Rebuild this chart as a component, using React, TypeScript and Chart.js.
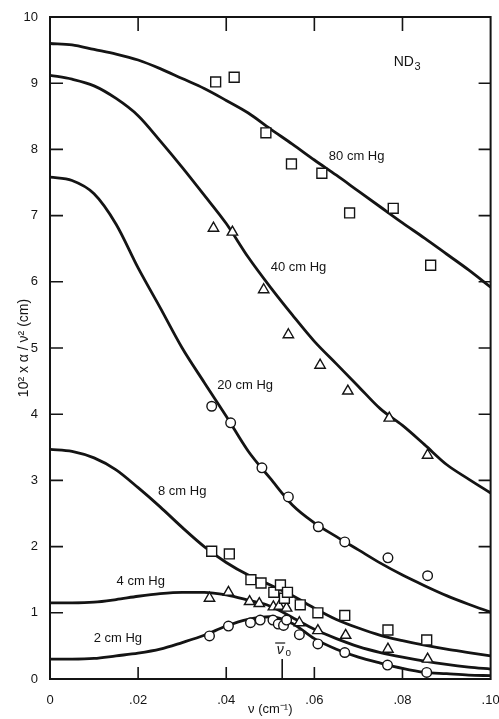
import React, { useEffect, useRef } from "react";
import { Chart, registerables } from "chart.js";

Chart.register(...registerables);

// ---- sampled theory curves (x in cm^-1) ----
const curveX = [0, 0.005, 0.01, 0.015, 0.02, 0.025, 0.03, 0.035, 0.04, 0.045, 0.05, 0.055, 0.06, 0.065, 0.07, 0.075, 0.08, 0.085, 0.09, 0.095, 0.1];
const curve80 = [9.6, 9.58, 9.51, 9.44, 9.35, 9.22, 9.07, 8.92, 8.74, 8.55, 8.31, 8.08, 7.84, 7.61, 7.37, 7.13, 6.89, 6.66, 6.42, 6.18, 5.92];
const curve40 = [9.12, 9.06, 8.96, 8.77, 8.51, 8.13, 7.73, 7.31, 6.88, 6.37, 5.92, 5.5, 5.1, 4.76, 4.42, 4.08, 3.83, 3.54, 3.24, 3.02, 2.81];
const curve20 = [7.58, 7.53, 7.33, 6.87, 6.21, 5.61, 5.0, 4.48, 3.97, 3.44, 3.03, 2.63, 2.36, 2.15, 1.95, 1.75, 1.57, 1.41, 1.26, 1.13, 1.01];
const curve8 = [3.47, 3.44, 3.34, 3.16, 2.89, 2.6, 2.29, 2.0, 1.76, 1.57, 1.42, 1.26, 1.07, 0.9, 0.77, 0.66, 0.58, 0.51, 0.45, 0.4, 0.35];
const curve4 = [1.15, 1.15, 1.16, 1.2, 1.25, 1.29, 1.31, 1.31, 1.27, 1.19, 1.1, 0.93, 0.75, 0.61, 0.49, 0.4, 0.33, 0.27, 0.22, 0.18, 0.15];
const curve2 = [0.3, 0.3, 0.31, 0.35, 0.39, 0.45, 0.55, 0.66, 0.8, 0.9, 0.94, 0.84, 0.61, 0.45, 0.33, 0.24, 0.16, 0.1, 0.08, 0.06, 0.05];

// ---- measured points ----
const p80X = [0.0376, 0.0418, 0.049, 0.0548, 0.0617, 0.068, 0.0779, 0.0864];
const p80Y = [9.02, 9.09, 8.25, 7.78, 7.64, 7.04, 7.11, 6.25];
const p40X = [0.0371, 0.0414, 0.0485, 0.0541, 0.0613, 0.0676, 0.077, 0.0857];
const p40Y = [6.81, 6.75, 5.88, 5.2, 4.74, 4.35, 3.94, 3.38];
const p20X = [0.0367, 0.041, 0.0481, 0.0541, 0.0609, 0.0669, 0.0767, 0.0857];
const p20Y = [4.12, 3.87, 3.19, 2.75, 2.3, 2.07, 1.83, 1.56];
const p8X = [0.0367, 0.0407, 0.0456, 0.0479, 0.0508, 0.0523, 0.0532, 0.0539, 0.0568, 0.0608, 0.0669, 0.0767, 0.0855];
const p8Y = [1.93, 1.89, 1.5, 1.45, 1.31, 1.42, 1.22, 1.31, 1.12, 1.0, 0.96, 0.74, 0.59];
const p4X = [0.0362, 0.0405, 0.0453, 0.0475, 0.0507, 0.052, 0.0537, 0.0566, 0.0608, 0.0671, 0.0767, 0.0857];
const p4Y = [1.22, 1.31, 1.17, 1.14, 1.09, 1.1, 1.07, 0.85, 0.73, 0.66, 0.45, 0.3];
const p2X = [0.0362, 0.0405, 0.0455, 0.0477, 0.0506, 0.0518, 0.053, 0.0537, 0.0566, 0.0608, 0.0669, 0.0766, 0.0855];
const p2Y = [0.65, 0.8, 0.85, 0.89, 0.89, 0.83, 0.81, 0.89, 0.67, 0.53, 0.4, 0.21, 0.1];

// ---- axes / labels ----
const xTickValues = [0, 0.02, 0.04, 0.06, 0.08, 0.1];
const xTickLabels = ["0", ".02", ".04", ".06", ".08", ".10"];
const xInnerTicks = [0.02, 0.04, 0.06, 0.08];
const yTickValues = [0, 1, 2, 3, 4, 5, 6, 7, 8, 9, 10];
const curveLabelText = ["80 cm Hg", "40 cm Hg", "20 cm Hg", "8 cm Hg", "4 cm Hg", "2 cm Hg"];
const curveLabelX = [0.0696, 0.0564, 0.0443, 0.03, 0.0206, 0.0154];
const curveLabelY = [7.89, 6.22, 4.44, 2.84, 1.47, 0.62];
const gasLabelX = 0.081;
const gasLabelY = 9.32;
const nu0X = 0.0527;

const INK = "#141414";
const FAMILY = '"Liberation Sans", Arial, Helvetica, sans-serif';

const pts = (xs: number[], ys: number[]) => xs.map((x, i) => ({ x, y: ys[i] }));

const decor = {
  id: "decor",
  afterDatasetsDraw(chart: any) {
    const { ctx, chartArea: a, scales } = chart;
    const xs = scales.x;
    const ys = scales.y;
    ctx.save();
    ctx.strokeStyle = INK;
    ctx.lineWidth = 2;
    ctx.strokeRect(a.left, a.top, a.right - a.left, a.bottom - a.top);
    ctx.lineWidth = 1.6;
    ctx.beginPath();
    for (const v of yTickValues) {
      if (v === 0 || v === 10) continue;
      const py = ys.getPixelForValue(v);
      ctx.moveTo(a.left, py);
      ctx.lineTo(a.left + 13, py);
      ctx.moveTo(a.right, py);
      ctx.lineTo(a.right - 12, py);
    }
    for (const v of xInnerTicks) {
      const px = xs.getPixelForValue(v);
      ctx.moveTo(px, a.top);
      ctx.lineTo(px, a.top + 14);
      ctx.moveTo(px, a.bottom);
      ctx.lineTo(px, a.bottom - 12);
    }
    const n0 = xs.getPixelForValue(nu0X);
    ctx.moveTo(n0, a.bottom);
    ctx.lineTo(n0, a.bottom - 20);
    ctx.stroke();

    ctx.fillStyle = INK;
    ctx.textAlign = "center";
    ctx.textBaseline = "middle";
    ctx.font = `13px ${FAMILY}`;
    curveLabelText.forEach((t, i) => {
      ctx.fillText(t, xs.getPixelForValue(curveLabelX[i]), ys.getPixelForValue(curveLabelY[i]));
    });

    // ND3
    const gx = xs.getPixelForValue(gasLabelX);
    const gy = ys.getPixelForValue(gasLabelY);
    ctx.font = `14px ${FAMILY}`;
    const wND = ctx.measureText("ND").width;
    ctx.font = `11px ${FAMILY}`;
    const w3 = ctx.measureText("3").width;
    const start = gx - (wND + w3) / 2;
    ctx.textAlign = "left";
    ctx.font = `14px ${FAMILY}`;
    ctx.fillText("ND", start, gy);
    ctx.font = `11px ${FAMILY}`;
    ctx.fillText("3", start + wND + 0.5, gy + 5);

    // nu-bar-zero label
    const ly = a.bottom - 29;
    ctx.textAlign = "center";
    ctx.font = `italic 14px ${FAMILY}`;
    ctx.fillText("ν", n0 - 2, ly);
    ctx.lineWidth = 1.2;
    ctx.beginPath();
    ctx.moveTo(n0 - 7, ly - 7);
    ctx.lineTo(n0 + 3, ly - 7);
    ctx.stroke();
    ctx.font = `10px ${FAMILY}`;
    ctx.fillText("o", n0 + 6, ly + 3);
    ctx.restore();
  },
};

const curveDs = (ys: number[]) => ({
  data: pts(curveX, ys),
  showLine: true,
  borderColor: INK,
  borderWidth: 2.8,
  pointRadius: 0,
  cubicInterpolationMode: "monotone" as const,
  fill: false,
  order: 2,
});

const markDs = (xs: number[], ys: number[], style: string, r: number) => ({
  data: pts(xs, ys),
  showLine: false,
  pointStyle: style,
  pointRadius: r,
  pointBorderWidth: 1.4,
  pointBorderColor: INK,
  pointBackgroundColor: "#ffffff",
  order: 1,
});

export default function App() {
  const ref = useRef<HTMLCanvasElement | null>(null);
  useEffect(() => {
    if (!ref.current) return;
    const chart = new Chart(ref.current, {
      type: "scatter",
      data: {
        datasets: [
          markDs(p80X, p80Y, "rect", 7),
          markDs(p40X, p40Y, "triangle", 6),
          markDs(p20X, p20Y, "circle", 4.8),
          markDs(p8X, p8Y, "rect", 7),
          markDs(p4X, p4Y, "triangle", 6),
          markDs(p2X, p2Y, "circle", 4.8),
          curveDs(curve80),
          curveDs(curve40),
          curveDs(curve20),
          curveDs(curve8),
          curveDs(curve4),
          curveDs(curve2),
        ] as any,
      },
      options: {
        animation: false,
        responsive: false,
        layout: { padding: { left: 0, right: 2, top: 17, bottom: 0 } },
        plugins: { legend: { display: false }, tooltip: { enabled: false } },
        scales: {
          x: {
            type: "linear",
            min: 0,
            max: 0.1,
            grid: { display: false },
            border: { display: false },
            afterBuildTicks: (s: any) => {
              s.ticks = xTickValues.map((v) => ({ value: v }));
            },
            ticks: {
              autoSkip: false,
              maxRotation: 0,
              padding: 6,
              color: INK,
              font: { family: FAMILY, size: 13 },
              callback: (_v: any, i: number) => xTickLabels[i],
            },
            title: {
              display: true,
              text: "ν (cm⁻¹)",
              color: INK,
              font: { family: FAMILY, size: 13 },
              padding: { top: 0, bottom: 2 },
            },
            afterFit: (s: any) => {
              s.height = 40;
              s.paddingLeft = 0;
              s.paddingRight = 0;
            },
          },
          y: {
            type: "linear",
            min: 0,
            max: 10,
            grid: { display: false },
            border: { display: false },
            afterBuildTicks: (s: any) => {
              s.ticks = yTickValues.map((v) => ({ value: v }));
            },
            ticks: {
              padding: 4,
              color: INK,
              font: { family: FAMILY, size: 13 },
              callback: (v: any) => String(v),
            },
            title: {
              display: true,
              text: "10² x α / ν² (cm)",
              color: INK,
              font: { family: FAMILY, size: 14 },
              padding: { top: 16, bottom: 0 },
            },
            afterFit: (s: any) => {
              s.width = 50;
              s.paddingTop = 0;
              s.paddingBottom = 0;
            },
          },
        },
      } as any,
      plugins: [decor],
    });
    return () => chart.destroy();
  }, []);
  return (
    <div style={{ position: "absolute", left: 0, top: 0, width: 499, height: 719, background: "#fff" }}>
      <canvas ref={ref} width={499} height={719} style={{ display: "block" }} />
    </div>
  );
}
